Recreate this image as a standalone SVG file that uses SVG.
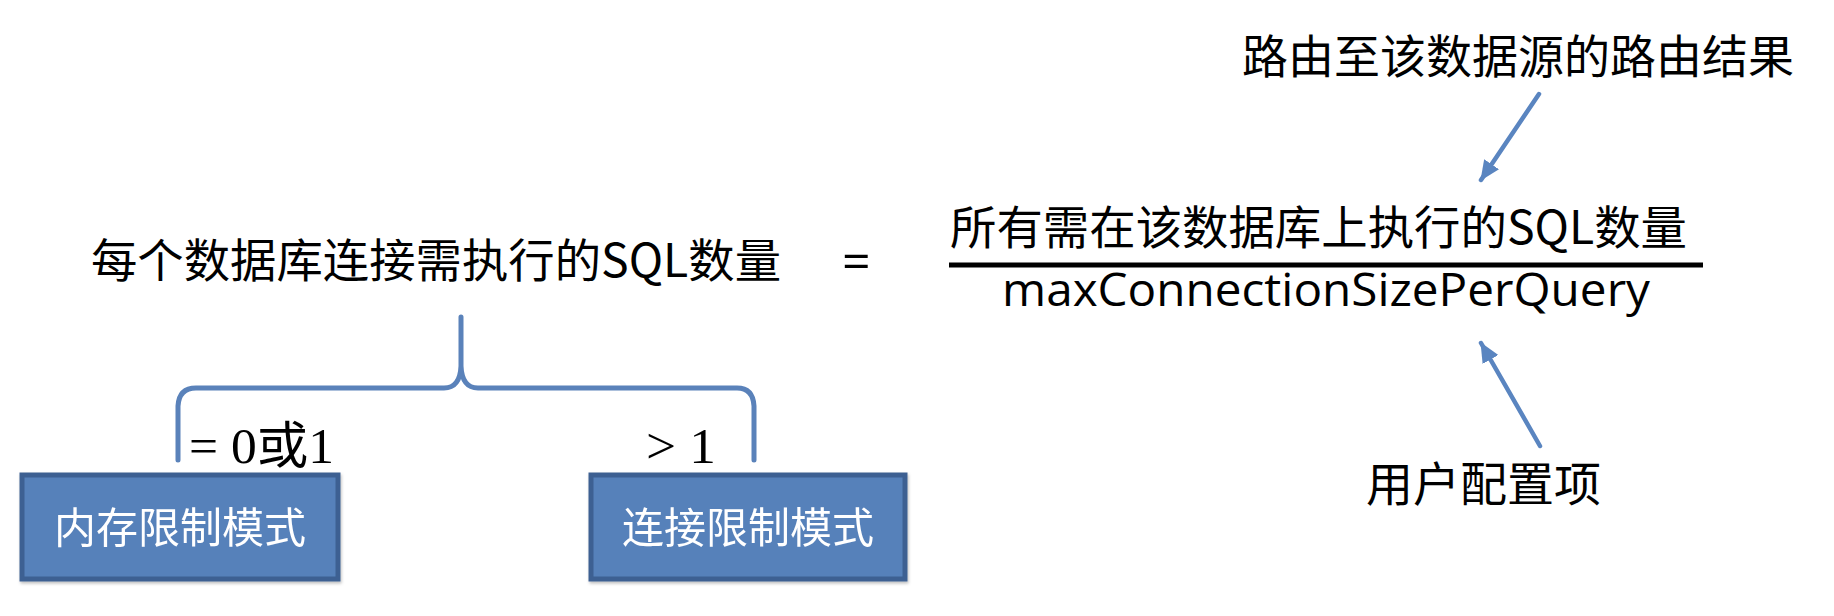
<svg xmlns="http://www.w3.org/2000/svg" width="1834" height="616" viewBox="0 0 1834 616">
  <style>
    .cjk { font-family: "Noto Sans CJK SC", "Noto Sans", sans-serif; fill: #000; }
    .lat { font-family: "Open Sans", "Liberation Sans", "Noto Sans CJK SC", sans-serif; fill: #000; }
    .ser { font-family: "Liberation Serif", "Noto Sans CJK SC", serif; fill: #000; }
    .box { fill: #5781BA; stroke: #3D6192; stroke-width: 5; }
    .boxtxt { font-family: "Noto Sans CJK SC", sans-serif; fill: #fff; font-size: 42px; text-anchor: middle; }
    .arrow { stroke: #5A85C0; stroke-width: 4.5; fill: none; stroke-linecap: round; }
    .brace { stroke: #5A82BA; stroke-width: 5; fill: none; stroke-linecap: round; stroke-linejoin: round; }
  </style>
  <defs>
    <marker id="head" markerUnits="userSpaceOnUse" markerWidth="20" markerHeight="18" viewBox="0 0 20 18" refX="19" refY="9" orient="auto">
      <path d="M0,0 L20,9 L0,18 Z" fill="#5A85C0"/>
    </marker>
    <filter id="shadow" x="-5%" y="-5%" width="115%" height="125%">
      <feDropShadow dx="1" dy="2" stdDeviation="1.5" flood-color="#000" flood-opacity="0.25"/>
    </filter>
  </defs>
  <rect width="1834" height="616" fill="#fff"/>

  <g id="left-formula">
    <text class="cjk" x="91" y="277" font-size="46" textLength="690" lengthAdjust="spacingAndGlyphs">每个数据库连接需执行的SQL数量</text>
  </g>
  <g id="equals">
    <text class="lat" x="842" y="279" font-size="50">=</text>
  </g>
  <g id="numerator">
    <text class="cjk" x="950" y="244" font-size="46" textLength="737" lengthAdjust="spacingAndGlyphs">所有需在该数据库上执行的SQL数量</text>
  </g>
  <g id="fraction-bar">
    <line x1="949" y1="265" x2="1703" y2="265" stroke="#000" stroke-width="5"/>
  </g>
  <g id="denominator">
    <text class="lat" x="1002" y="306" font-size="46" textLength="648" lengthAdjust="spacingAndGlyphs">maxConnectionSizePerQuery</text>
  </g>
  <g id="route-label">
    <text class="cjk" x="1242" y="73" font-size="46">路由至该数据源的路由结果</text>
  </g>
  <g id="config-label">
    <text class="cjk" x="1366" y="501" font-size="47">用户配置项</text>
  </g>
  <g id="cond-left">
    <text class="ser" x="189" y="463" font-size="50" textLength="145" lengthAdjust="spacingAndGlyphs">= 0或1</text>
  </g>
  <g id="cond-right">
    <text class="ser" x="646" y="463" font-size="50" textLength="70" lengthAdjust="spacingAndGlyphs">&gt; 1</text>
  </g>
  <g id="memory-mode" filter="url(#shadow)">
    <rect class="box" x="22" y="475" width="316" height="104"/>
    <text class="boxtxt" x="180" y="543">内存限制模式</text>
  </g>
  <g id="connection-mode" filter="url(#shadow)">
    <rect class="box" x="591" y="475" width="314" height="104"/>
    <text class="boxtxt" x="748" y="543">连接限制模式</text>
  </g>

  <g id="connectors">
    <path class="brace" d="M178,460 L178,406 Q179,388 196,388 L444,388 Q460,388 461,366 L461,317 M461,366 Q462,388 478,388 L737,388 Q753,388 754,406 L754,460"/>
    <line class="arrow" x1="1539" y1="94" x2="1481" y2="180" marker-end="url(#head)"/>
    <line class="arrow" x1="1540" y1="446" x2="1481" y2="343" marker-end="url(#head)"/>
  </g>
</svg>
